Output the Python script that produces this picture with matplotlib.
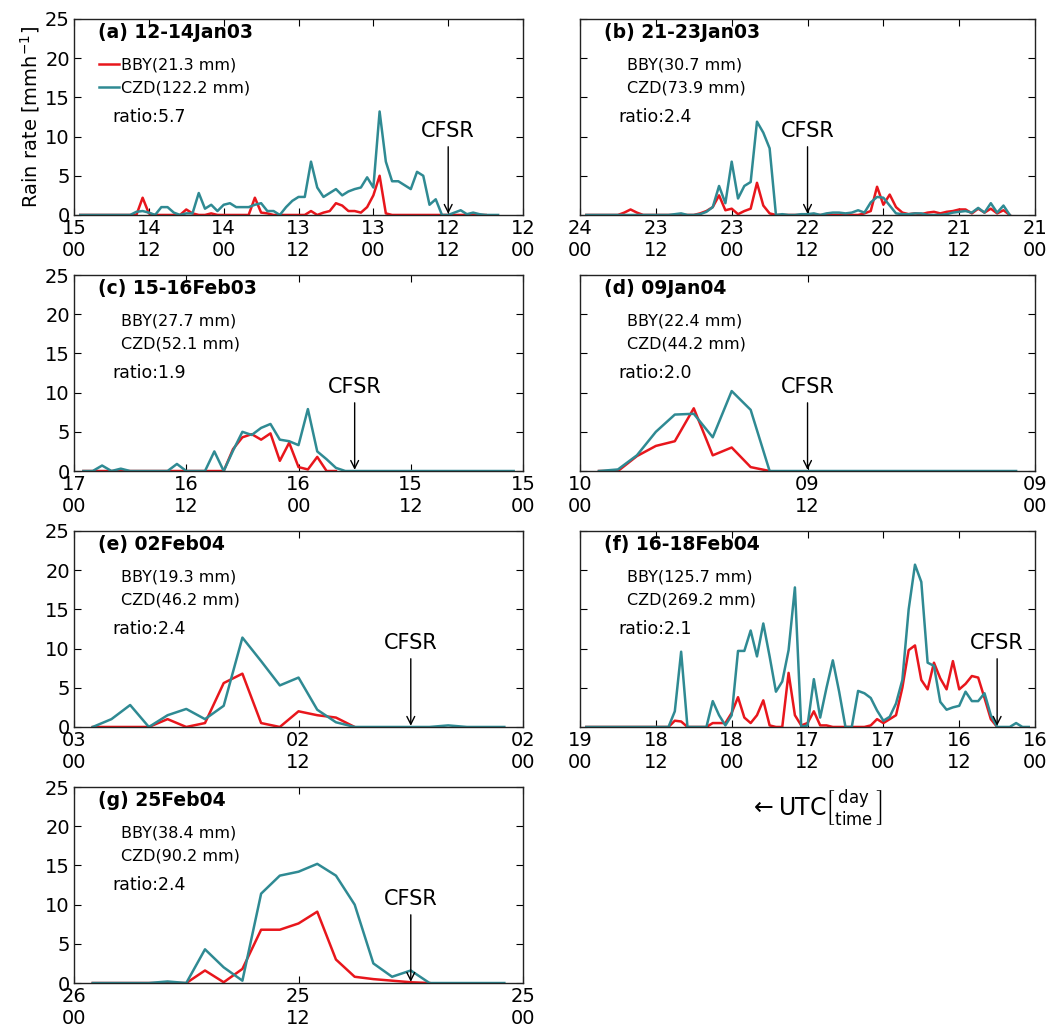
#! /usr/bin/env python3

## Libraries
import numpy as np
import matplotlib.pyplot as plt

#-----------------------------------------------------------------------
## Data
# hourly rain rate (mm/h), listed left to right as drawn (newest first),
# first value is 1 h before the panel end time
titles = ['(a) 12-14Jan03', '(b) 21-23Jan03', '(c) 15-16Feb03', '(d) 09Jan04',
          '(e) 02Feb04', '(f) 16-18Feb04', '(g) 25Feb04']
start_day = [12, 21, 15, 9, 2, 16, 25]     # day at 00 UTC of panel start
span_h    = [72, 72, 48, 24, 24, 72, 24]   # panel length in hours
cfsr_h    = [12, 36, 18, 12, 6, 6, 6]      # CFSR time, hours after start
bby_tot   = [21.3, 30.7, 27.7, 22.4, 19.3, 125.7, 38.4]
czd_tot   = [122.2, 73.9, 52.1, 44.2, 46.2, 269.2, 90.2]
ratios    = [5.7, 2.4, 1.9, 2.0, 2.4, 2.1, 2.4]

czd_a = [0, 0, 0, 0, 0, 0, 0, 0, 0,
         0.4, 0.5, 0.3, 0, 1.0, 1.0, 0.3, 0, 0.2, 0.2,
         2.8, 0.8, 1.3, 0.5, 1.3, 1.5, 1.0, 1.0, 1.0, 1.3,
         1.5, 0.5, 0.5, 0, 1.0, 1.8, 2.3, 2.3, 6.8, 3.5,
         2.3, 2.8, 3.3, 2.5, 3.0, 3.3, 3.5, 4.8, 3.5, 13.2,
         6.8, 4.3, 4.3, 3.8, 3.3, 5.5, 5.0, 1.3, 2.0, 0,
         0, 0.3, 0.6, 0.1, 0.3, 0.1, 0, 0, 0]
bby_a = [0, 0, 0, 0, 0, 0, 0, 0, 0, 0,
         2.2, 0.2, 0, 0, 0, 0, 0, 0.7, 0.2, 0,
         0, 0.2, 0, 0, 0, 0, 0, 0, 2.2, 0.3,
         0.2, 0, 0, 0, 0, 0, 0, 0.5, 0, 0.3,
         0.5, 1.5, 1.2, 0.5, 0.5, 0.3, 1.0, 2.5, 5.0, 0.2,
         0, 0, 0, 0, 0, 0, 0, 0, 0, 0, 0, 0, 0, 0, 0, 0]

czd_b = [0, 0, 0, 0, 0, 0, 0, 0, 0, 0, 0, 0, 0, 0,
         0.1, 0.2, 0, 0, 0.1, 0.4, 1.0, 3.7, 1.5, 6.8,
         2.1, 3.7, 4.2, 11.9, 10.5, 8.5, 0, 0.1, 0, 0,
         0.1, 0.1, 0.2, 0, 0.2, 0.3, 0.3, 0.2, 0.3, 0.6,
         0.3, 1.6, 2.3, 2.2, 1.2, 0.2, 0.1, 0.1, 0.2, 0.2,
         0, 0, 0, 0.1, 0.3, 0.4, 0.5, 0.3, 0.9, 0.3,
         1.5, 0.3, 1.2, 0]
bby_b = [0, 0, 0, 0, 0, 0, 0.3, 0.7, 0.3,
         0, 0, 0, 0, 0, 0, 0, 0, 0,
         0.2, 0.5, 1.0, 2.5, 0.6, 0.8, 0.1, 0.5, 0.8, 4.1, 1.2, 0.2,
         0, 0, 0, 0, 0, 0, 0, 0, 0, 0, 0, 0, 0, 0,
         0.2, 0.5, 3.6, 1.3, 2.6, 1.0, 0.3, 0.1, 0.2, 0.1,
         0.3, 0.4, 0.2, 0.4, 0.5, 0.7, 0.7, 0.2, 0.8, 0.3,
         0.8, 0.2, 0.6, 0]

czd_c = [0, 0, 0.7, 0, 0.3, 0, 0, 0, 0, 0,
         0.9, 0, 0, 0, 2.5, 0, 2.6, 5.0, 4.6, 5.5,
         6.0, 4.0, 3.8, 3.3, 7.9, 2.5, 1.5, 0.4, 0, 0,
         0, 0, 0, 0, 0, 0, 0, 0, 0, 0,
         0, 0, 0, 0, 0, 0, 0]
bby_c = [0, 0, 0, 0, 0, 0, 0, 0, 0, 0, 0, 0, 0, 0, 0, 0,
         2.8, 4.3, 4.7, 4.0, 4.8, 1.3, 3.6, 0.5, 0.2, 1.8, 0, 0]

czd_d = [0, 0.2, 2.0, 5.0, 7.2, 7.3, 4.3, 10.2, 7.8, 0,
         0, 0, 0, 0, 0, 0, 0, 0, 0, 0, 0, 0, 0]
bby_d = [0, 0, 1.9, 3.2, 3.8, 8.0, 2.0, 3.0, 0.5, 0]

czd_e = [0, 1.0, 2.8, 0, 1.5, 2.3, 1.0, 2.7, 11.4, 8.4,
         5.3, 6.3, 2.2, 0.6, 0, 0, 0, 0, 0, 0.2,
         0, 0, 0]
bby_e = [0, 0, 0, 0, 1.0, 0, 0.5, 5.6, 6.8, 0.5,
         0, 2.0, 1.5, 1.2, 0]

czd_f = [0, 0, 0, 0, 0, 0, 0, 0, 0, 0, 0, 0, 0, 0,
         2.0, 9.6, 0, 0, 0, 0, 3.3, 1.5, 0.2, 1.5,
         9.7, 9.7, 12.3, 9.0, 13.2, 9.0, 4.5, 5.8, 9.8, 17.8,
         0, 0.2, 6.1, 1.2, 5.0, 8.5, 4.5, 0, 0, 4.6,
         4.3, 3.7, 2.1, 0.8, 1.3, 3.0, 6.0, 15.0, 20.7, 18.5,
         8.2, 7.8, 3.2, 2.2, 2.5, 2.7, 4.5, 3.3, 3.3, 4.3,
         1.5, 0, 0, 0, 0.5, 0, 0]
bby_f = [0, 0, 0, 0, 0, 0, 0, 0, 0, 0, 0, 0, 0, 0,
         0.8, 0.7, 0, 0, 0, 0, 0.5, 0.5, 0.5, 1.8,
         3.8, 1.2, 0.5, 1.5, 3.4, 0.2, 0, 0, 6.9, 1.5,
         0.2, 0.5, 2.0, 0.2, 0.2, 0, 0, 0, 0, 0,
         0, 0.2, 1.0, 0.5, 1.0, 1.5, 5.0, 9.8, 10.4, 6.0,
         4.8, 8.2, 6.2, 4.8, 8.4, 4.8, 5.5, 6.5, 6.3, 3.7,
         1.0, 0]

czd_g = [0, 0, 0, 0, 0.2, 0, 4.3, 2.0, 0.3, 11.4,
         13.7, 14.2, 15.2, 13.7, 10.0, 2.5, 0.8, 1.6, 0, 0,
         0, 0, 0]
bby_g = [0, 0, 0, 0, 0, 0, 1.6, 0.1, 1.8, 6.8,
         6.8, 7.6, 9.1, 3.0, 0.8, 0.5, 0.3, 0.1, 0]

czd = [czd_a, czd_b, czd_c, czd_d, czd_e, czd_f, czd_g]
bby = [bby_a, bby_b, bby_c, bby_d, bby_e, bby_f, bby_g]

#-----------------------------------------------------------------------
## Plot
red  = '#e8161c'
teal = '#2f8a93'

fig = plt.figure(figsize=(10.59, 10.30), dpi=100)

# axes boxes (left, bottom, width, height) in figure fraction
lefts   = [0.0699, 0.5477]
bottoms = [0.7913, 0.5427, 0.2942, 0.0456]
widths  = [0.424, 0.4297]
height  = 0.1903

for k in range(7):
	row, col = k // 2, k % 2
	ax = fig.add_axes([lefts[col], bottoms[row], widths[col], height])
	span = span_h[k]

	x_b = span - (1 + np.arange(len(bby[k])))
	x_c = span - (1 + np.arange(len(czd[k])))
	ax.plot(x_b, bby[k], color=red, lw=1.8, label='BBY(%.1f mm)' % bby_tot[k])
	ax.plot(x_c, czd[k], color=teal, lw=1.8, label='CZD(%.1f mm)' % czd_tot[k])

	ax.set_xlim(span, 0)
	ax.set_ylim(0, 25)

	ticks = np.arange(0, span + 1, 12)
	labels = ['%02d\n%02d' % (start_day[k] + t // 24, t % 24) for t in ticks]
	ax.set_xticks(ticks)
	ax.set_xticklabels(labels)
	ax.set_yticks([0, 5, 10, 15, 20, 25])
	if col == 1:
		ax.set_yticklabels([])
	ax.tick_params(direction='in', top=True, right=True, length=5,
	               labelsize=14, pad=3)
	for s in ax.spines.values():
		s.set_linewidth(1.0)
		s.set_color('#222222')

	leg = ax.legend(loc='upper left', bbox_to_anchor=(0.055, 0.805),
	                frameon=False, fontsize=11.5, handlelength=1.3,
	                handletextpad=0.1, labelspacing=0.5,
	                borderpad=0, borderaxespad=0)
	if k > 0:
		for h in leg.legend_handles:
			h.set_visible(False)

	ax.text(0.053, 0.93, titles[k], transform=ax.transAxes,
	        fontsize=13.5, fontweight='bold', va='center', ha='left')
	ax.text(0.085, 0.50, 'ratio:%.1f' % ratios[k], transform=ax.transAxes,
	        fontsize=12.5, va='center', ha='left')

	t = cfsr_h[k]
	ax.annotate('', xy=(t, 0.15), xytext=(t, 8.7),
	            arrowprops=dict(arrowstyle='->', lw=1.0, color='k',
	                            shrinkA=0, shrinkB=0, mutation_scale=14))
	ax.text(t, 10.7, 'CFSR', ha='center', va='center', fontsize=15)

	if k == 0:
		ax.set_ylabel(r'Rain rate $\left[\mathrm{mmh^{-1}}\right]$',
		              fontsize=14, labelpad=2)

fig.text(0.77, 0.215,
         r'$\leftarrow\mathrm{UTC}\genfrac{[}{]}{0}{}{\mathrm{day}}{\mathrm{time}}$',
         fontsize=17, ha='center', va='center')

plt.savefig('out.png', dpi=100)
